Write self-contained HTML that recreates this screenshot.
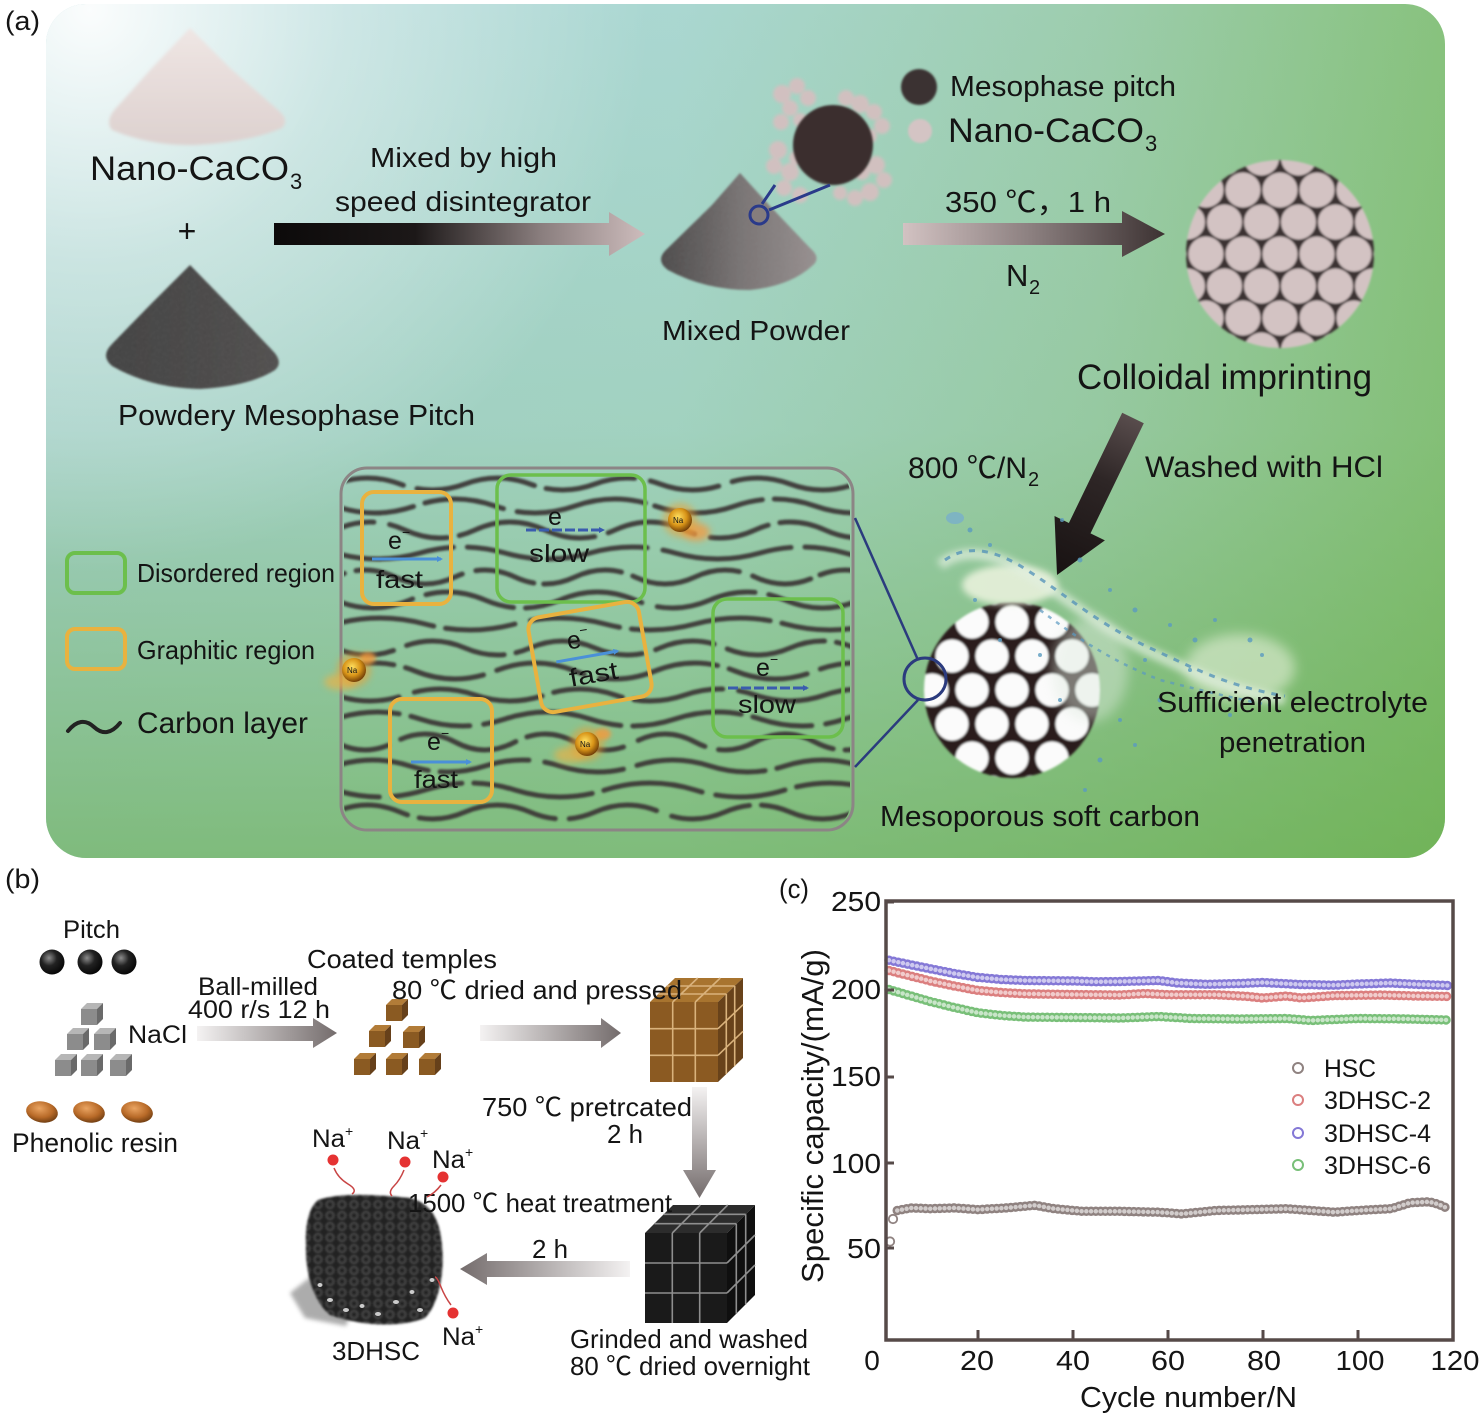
<!DOCTYPE html>
<html><head><meta charset="utf-8"><style>
html,body{margin:0;padding:0;background:#fff;}
svg{display:block;}
text{font-family:"Liberation Sans","Noto Sans CJK SC",sans-serif;fill:#141414;}
</style></head><body>
<svg width="1479" height="1415" viewBox="0 0 1479 1415" xmlns="http://www.w3.org/2000/svg">
<defs>
 <linearGradient id="bgX" gradientUnits="userSpaceOnUse" x1="46" y1="0" x2="1445" y2="0">
  <stop offset="0" stop-color="#aad4d7"/><stop offset="0.45" stop-color="#aad7d1"/>
  <stop offset="0.75" stop-color="#9dcdae"/><stop offset="1" stop-color="#88c27e"/>
 </linearGradient>
 <linearGradient id="bgY" gradientUnits="userSpaceOnUse" x1="0" y1="4" x2="0" y2="858">
  <stop offset="0" stop-color="#62aa40" stop-opacity="0"/><stop offset="0.5" stop-color="#62aa40" stop-opacity="0.12"/>
  <stop offset="1" stop-color="#62aa40" stop-opacity="0.6"/>
 </linearGradient>
 <radialGradient id="bgW" gradientUnits="userSpaceOnUse" cx="90" cy="10" r="560">
  <stop offset="0" stop-color="#fff" stop-opacity="0.95"/><stop offset="0.45" stop-color="#fff" stop-opacity="0.42"/>
  <stop offset="1" stop-color="#fff" stop-opacity="0"/>
 </radialGradient>
 <filter id="b1" x="-50%" y="-50%" width="200%" height="200%"><feGaussianBlur stdDeviation="1"/></filter>
 <filter id="b15" x="-50%" y="-50%" width="200%" height="200%"><feGaussianBlur stdDeviation="1.5"/></filter>
 <filter id="b2" x="-50%" y="-50%" width="200%" height="200%"><feGaussianBlur stdDeviation="2"/></filter>
 <filter id="b3" x="-50%" y="-50%" width="200%" height="200%"><feGaussianBlur stdDeviation="3.5"/></filter>
 <filter id="b6" x="-50%" y="-50%" width="200%" height="200%"><feGaussianBlur stdDeviation="6"/></filter>
 <filter id="grain" x="-10%" y="-10%" width="120%" height="120%">
  <feTurbulence type="fractalNoise" baseFrequency="0.9" numOctaves="2" result="n"/>
  <feColorMatrix in="n" type="matrix" values="0 0 0 0 1  0 0 0 0 1  0 0 0 0 1  0 0 0 0.12 0" result="w"/>
  <feComposite in="w" in2="SourceGraphic" operator="in" result="wg"/>
  <feMerge result="m"><feMergeNode in="SourceGraphic"/><feMergeNode in="wg"/></feMerge>
  <feGaussianBlur in="m" stdDeviation="1"/>
 </filter>
 <linearGradient id="wp" x1="0" y1="0" x2="0" y2="1"><stop offset="0" stop-color="#efe6e4"/><stop offset="1" stop-color="#ddd1cf"/></linearGradient>
 <linearGradient id="bp" x1="0" y1="0" x2="1" y2="0"><stop offset="0" stop-color="#141212"/><stop offset="1" stop-color="#33302f"/></linearGradient>
 <linearGradient id="mp" x1="0" y1="0" x2="1" y2="0"><stop offset="0" stop-color="#2e2a2a"/><stop offset="0.5" stop-color="#6a6464"/><stop offset="1" stop-color="#8e8686"/></linearGradient>
 <linearGradient id="ga1" gradientUnits="userSpaceOnUse" x1="274" y1="0" x2="645" y2="0">
  <stop offset="0" stop-color="#0c0a0a"/><stop offset="0.38" stop-color="#1c1818"/><stop offset="0.72" stop-color="#8a7e7e"/><stop offset="1" stop-color="#cdbcbc"/>
 </linearGradient>
 <linearGradient id="ga2" gradientUnits="userSpaceOnUse" x1="903" y1="0" x2="1165" y2="0">
  <stop offset="0" stop-color="#d2c2c2"/><stop offset="0.5" stop-color="#8a7e7e"/><stop offset="1" stop-color="#3c3232"/>
 </linearGradient>
 <linearGradient id="ga3" gradientUnits="userSpaceOnUse" x1="1133" y1="415" x2="1057" y2="575">
  <stop offset="0" stop-color="#5a4e4e"/><stop offset="0.4" stop-color="#2e2626"/><stop offset="1" stop-color="#181212"/>
 </linearGradient>
 <linearGradient id="gbR" x1="0" y1="0" x2="1" y2="0"><stop offset="0" stop-color="#f4f2f2"/><stop offset="1" stop-color="#746c6c"/></linearGradient>
 <linearGradient id="gbL" x1="1" y1="0" x2="0" y2="0"><stop offset="0" stop-color="#f4f2f2"/><stop offset="1" stop-color="#746c6c"/></linearGradient>
 <linearGradient id="gbD" x1="0" y1="0" x2="0" y2="1"><stop offset="0" stop-color="#f4f2f2"/><stop offset="1" stop-color="#746c6c"/></linearGradient>
 <radialGradient id="nag" cx="0.42" cy="0.38" r="0.65"><stop offset="0" stop-color="#ffe060"/><stop offset="0.55" stop-color="#d89418"/><stop offset="1" stop-color="#6a3806"/></radialGradient>
 <radialGradient id="bb" cx="0.38" cy="0.34" r="0.7"><stop offset="0" stop-color="#8c8c8c"/><stop offset="0.45" stop-color="#222"/><stop offset="1" stop-color="#050505"/></radialGradient>
 <radialGradient id="rz" cx="0.4" cy="0.35" r="0.7"><stop offset="0" stop-color="#eaa462"/><stop offset="0.6" stop-color="#b86a28"/><stop offset="1" stop-color="#6a3a10"/></radialGradient>
 <pattern id="pk" x="1280" y="254" width="37" height="64" patternUnits="userSpaceOnUse">
  <rect width="37" height="64" fill="#3a3030"/>
  <g fill="#d3c3c3"><circle cx="0" cy="0" r="17.5"/><circle cx="37" cy="0" r="17.5"/><circle cx="18.5" cy="32" r="17.5"/><circle cx="0" cy="64" r="17.5"/><circle cx="37" cy="64" r="17.5"/></g>
 </pattern>
 <pattern id="pw" x="1012" y="690" width="40" height="68" patternUnits="userSpaceOnUse">
  <rect width="40" height="68" fill="#2a1f1f"/>
  <g fill="#fbfbfb"><circle cx="0" cy="0" r="16.5"/><circle cx="40" cy="0" r="16.5"/><circle cx="20" cy="34" r="16.5"/><circle cx="0" cy="68" r="16.5"/><circle cx="40" cy="68" r="16.5"/></g>
 </pattern>
 <pattern id="por" width="12" height="11" patternUnits="userSpaceOnUse">
  <rect width="12" height="11" fill="#242424"/><circle cx="6" cy="5.5" r="3.6" fill="none" stroke="#484848" stroke-width="1.8"/>
 </pattern>
 <clipPath id="boxclip"><rect x="344" y="471" width="506" height="356" rx="22"/></clipPath>
 <marker id="ahL" markerWidth="6" markerHeight="6" refX="4" refY="3" orient="auto" markerUnits="userSpaceOnUse"><path d="M0,0 L6,3 L0,6z" fill="#4a90d8"/></marker>
 <marker id="ahD" markerWidth="6" markerHeight="6" refX="4" refY="3" orient="auto" markerUnits="userSpaceOnUse"><path d="M0,0 L6,3 L0,6z" fill="#3a5cae"/></marker>
 <g id="gcube"><path d="M-11,-5h16v16h-16z" fill="#8c8c8c"/><path d="M-11,-5l6,-6h16l-6,6z" fill="#b6b6b6"/><path d="M5,-5l6,-6v16l-6,6z" fill="#6a6a6a"/></g>
 <g id="bcube"><path d="M-11,-5h16v16h-16z" fill="#8a5a22"/><path d="M-11,-5l6,-6h16l-6,6z" fill="#b27c38"/><path d="M5,-5l6,-6v16l-6,6z" fill="#66401a"/></g>
</defs>

<!-- ================= PANEL (a) ================= -->
<rect x="46" y="4" width="1399" height="854" rx="40" fill="url(#bgX)"/>
<rect x="46" y="4" width="1399" height="854" rx="40" fill="url(#bgY)"/>
<rect x="46" y="4" width="1399" height="854" rx="40" fill="url(#bgW)"/>

<text x="5" y="30" font-size="27" textLength="35" lengthAdjust="spacingAndGlyphs">(a)</text>

<!-- powders -->
<path d="M190,28 L152,68 L118,106 Q104,120 112,130 Q150,146 195,145 Q250,142 282,128 Q290,120 278,110 L230,68 Z" fill="url(#wp)" filter="url(#b15)"/>
<text x="90" y="180" font-size="34" textLength="199" lengthAdjust="spacingAndGlyphs">Nano-CaCO</text>
<text x="290" y="189" font-size="22">3</text>
<text x="187" y="242" font-size="32" text-anchor="middle">+</text>
<path d="M190,265 L150,305 L112,344 Q100,356 112,366 Q150,388 200,389 Q250,386 275,370 Q284,362 272,350 L232,308 Z" fill="url(#bp)" filter="url(#grain)"/>
<text x="118" y="425" font-size="29" textLength="357" lengthAdjust="spacingAndGlyphs">Powdery Mesophase Pitch</text>

<!-- arrow 1 -->
<path d="M274,223 H609 V212 L645,234 L609,256 V245 H274 Z" fill="url(#ga1)"/>
<text x="370" y="167" font-size="28" textLength="187" lengthAdjust="spacingAndGlyphs">Mixed by high</text>
<text x="335" y="211" font-size="28" textLength="256" lengthAdjust="spacingAndGlyphs">speed disintegrator</text>

<!-- mixed powder -->
<path d="M740,173 L712,205 L668,248 Q654,260 668,270 Q705,290 750,290 Q790,286 812,266 Q822,258 810,248 L770,206 Z" fill="url(#mp)" filter="url(#grain)"/>
<g fill="#d4c0c0" opacity="0.95" filter="url(#b15)">
 <circle cx="782" cy="94" r="9"/><circle cx="797" cy="86" r="8"/><circle cx="808" cy="98" r="8"/><circle cx="790" cy="108" r="8"/><circle cx="781" cy="122" r="8"/><circle cx="800" cy="120" r="7"/>
 <circle cx="846" cy="98" r="8"/><circle cx="860" cy="104" r="9"/><circle cx="874" cy="112" r="8"/><circle cx="882" cy="126" r="8"/><circle cx="870" cy="136" r="7"/>
 <circle cx="778" cy="150" r="9"/><circle cx="774" cy="166" r="8"/><circle cx="790" cy="172" r="9"/><circle cx="784" cy="188" r="8"/><circle cx="800" cy="195" r="8"/><circle cx="796" cy="158" r="7"/>
 <circle cx="862" cy="172" r="8"/><circle cx="876" cy="165" r="9"/><circle cx="884" cy="180" r="8"/><circle cx="870" cy="192" r="9"/><circle cx="855" cy="198" r="8"/><circle cx="840" cy="193" r="7"/>
</g>
<circle cx="833" cy="145" r="40" fill="#3a2e2e" filter="url(#b1)"/>
<path d="M762,204 L775,185 M769,210 L830,185" stroke="#2a3a8a" stroke-width="3" fill="none"/>
<circle cx="759" cy="215" r="9" fill="#857d7d" stroke="#2a3a8a" stroke-width="3"/>
<text x="662" y="340" font-size="28" textLength="188" lengthAdjust="spacingAndGlyphs">Mixed Powder</text>

<!-- legend top-right -->
<circle cx="919" cy="87" r="18" fill="#3a3030" filter="url(#b1)"/>
<text x="950" y="96" font-size="29" textLength="226" lengthAdjust="spacingAndGlyphs">Mesophase pitch</text>
<circle cx="920" cy="131" r="12" fill="#d4c4c4" filter="url(#b1)"/>
<text x="948" y="142" font-size="34" textLength="196" lengthAdjust="spacingAndGlyphs">Nano-CaCO</text>
<text x="1145" y="151" font-size="22">3</text>

<!-- arrow 2 -->
<path d="M903,223 H1122 V211 L1165,234 L1122,257 V245 H903 Z" fill="url(#ga2)"/>
<text x="945" y="212" font-size="29" textLength="166" lengthAdjust="spacingAndGlyphs">350 ℃，1 h</text>
<text x="1006" y="286" font-size="31">N</text>
<text x="1029" y="294" font-size="20">2</text>

<!-- colloidal sphere -->
<circle cx="1280" cy="254" r="94" fill="url(#pk)" filter="url(#b1)"/>
<text x="1077" y="389" font-size="35" textLength="295" lengthAdjust="spacingAndGlyphs">Colloidal imprinting</text>

<!-- diagonal arrow -->
<path d="M1122.2,412.8 L1143.8,423.2 L1090.5,533.4 L1104.9,540.4 L1057,575 L1054.5,516 L1068.9,523 Z" fill="url(#ga3)"/>
<text x="908" y="478" font-size="30" textLength="119" lengthAdjust="spacingAndGlyphs">800 ℃/N</text>
<text x="1028" y="486" font-size="20">2</text>
<text x="1145" y="477" font-size="30" textLength="238" lengthAdjust="spacingAndGlyphs">Washed with HCl</text>

<!-- zoom box with carbon layers -->
<g clip-path="url(#boxclip)" fill="none" stroke="#3b3636" stroke-width="5" stroke-linecap="round" opacity="0.92" filter="url(#b1)">
 <path d="M335,484 q32.5,-12 65,0 t65,0 t65,0 t65,0 t65,0 t65,0 t65,0 t65,0" stroke-dasharray="70 14 120 12 90 16"/>
 <path d="M335,506 q40,14 80,0 t80,0 t80,0 t80,0 t80,0 t80,0 t80,0" stroke-dasharray="110 12 80 14 130 10" stroke-dashoffset="30"/>
 <path d="M335,530 q35,-16 70,0 t70,0 t70,0 t70,0 t70,0 t70,0 t70,0 t70,0" stroke-dasharray="90 16 60 12 140 14" stroke-dashoffset="50"/>
 <path d="M335,553 q42.5,12 85,0 t85,0 t85,0 t85,0 t85,0 t85,0 t85,0" stroke-dasharray="130 14 70 12 100 16" stroke-dashoffset="10"/>
 <path d="M335,577 q30,-14 60,0 t60,0 t60,0 t60,0 t60,0 t60,0 t60,0 t60,0 t60,0" stroke-dasharray="80 12 110 14 60 10" stroke-dashoffset="70"/>
 <path d="M335,600 q37.5,16 75,0 t75,0 t75,0 t75,0 t75,0 t75,0 t75,0" stroke-dasharray="100 14 90 12 120 16" stroke-dashoffset="20"/>
 <path d="M335,624 q45,-12 90,0 t90,0 t90,0 t90,0 t90,0 t90,0" stroke-dasharray="140 12 70 16 90 12" stroke-dashoffset="40"/>
 <path d="M335,648 q32.5,14 65,0 t65,0 t65,0 t65,0 t65,0 t65,0 t65,0 t65,0" stroke-dasharray="60 14 100 12 130 14"/>
 <path d="M335,671 q40,-16 80,0 t80,0 t80,0 t80,0 t80,0 t80,0 t80,0" stroke-dasharray="120 12 80 14 90 16" stroke-dashoffset="60"/>
 <path d="M335,695 q35,12 70,0 t70,0 t70,0 t70,0 t70,0 t70,0 t70,0 t70,0" stroke-dasharray="90 16 130 12 70 12" stroke-dashoffset="25"/>
 <path d="M335,719 q42.5,-14 85,0 t85,0 t85,0 t85,0 t85,0 t85,0 t85,0" stroke-dasharray="110 12 60 14 140 12" stroke-dashoffset="45"/>
 <path d="M335,742 q30,16 60,0 t60,0 t60,0 t60,0 t60,0 t60,0 t60,0 t60,0 t60,0" stroke-dasharray="70 14 120 12 100 16" stroke-dashoffset="15"/>
 <path d="M335,766 q37.5,-12 75,0 t75,0 t75,0 t75,0 t75,0 t75,0 t75,0" stroke-dasharray="130 12 90 16 80 14" stroke-dashoffset="35"/>
 <path d="M335,790 q45,14 90,0 t90,0 t90,0 t90,0 t90,0 t90,0" stroke-dasharray="100 14 70 12 120 12" stroke-dashoffset="55"/>
 <path d="M335,812 q32.5,-14 65,0 t65,0 t65,0 t65,0 t65,0 t65,0 t65,0 t65,0" stroke-dasharray="80 12 140 14 90 16" stroke-dashoffset="5"/>
</g>
<rect x="341" y="468" width="512" height="362" rx="26" fill="none" stroke="#8c8585" stroke-width="3"/>

<!-- region boxes -->
<g fill="none" stroke-width="3.5">
 <rect x="497" y="475" width="148" height="127" rx="14" stroke="#6cbf4c"/>
 <rect x="713" y="599" width="130" height="138" rx="14" stroke="#6cbf4c"/>
 <rect x="362" y="492" width="89" height="112" rx="12" stroke="#e9b23f" stroke-width="4"/>
 <rect x="534" y="609" width="112" height="96" rx="12" stroke="#e9b23f" stroke-width="4" transform="rotate(-10 590 657)"/>
 <rect x="390" y="699" width="102" height="103" rx="12" stroke="#e9b23f" stroke-width="4"/>
</g>

<!-- electron labels -->
<g font-size="25">
 <text x="388" y="549" fill="#4a90d8">e</text><text x="402" y="537" font-size="14" fill="#4a90d8">−</text>
 <line x1="372" y1="559" x2="441" y2="559" stroke="#4a90d8" stroke-width="3" marker-end="url(#ahL)"/>
 <text x="376" y="588" fill="#4a90d8" textLength="47" lengthAdjust="spacingAndGlyphs">fast</text>

 <text x="548" y="525" fill="#3a5cae">e</text>
 <line x1="526" y1="530" x2="603" y2="530" stroke="#3a5cae" stroke-width="3" stroke-dasharray="10 3" marker-end="url(#ahD)"/>
 <text x="529" y="562" fill="#3a5cae" textLength="60" lengthAdjust="spacingAndGlyphs">slow</text>

 <g transform="rotate(-10 590 657)">
  <text x="570" y="646" fill="#4a90d8">e</text><text x="584" y="634" font-size="14" fill="#4a90d8">−</text>
  <line x1="556" y1="656" x2="618" y2="656" stroke="#4a90d8" stroke-width="3" marker-end="url(#ahL)"/>
  <text x="566" y="683" fill="#4a90d8" textLength="49" lengthAdjust="spacingAndGlyphs">fast</text>
 </g>

 <text x="756" y="676" fill="#3a5cae">e</text><text x="770" y="664" font-size="14" fill="#3a5cae">−</text>
 <line x1="728" y1="688" x2="807" y2="688" stroke="#3a5cae" stroke-width="3" stroke-dasharray="10 3" marker-end="url(#ahD)"/>
 <text x="738" y="713" fill="#3a5cae" textLength="58" lengthAdjust="spacingAndGlyphs">slow</text>

 <text x="427" y="750" fill="#4a90d8">e</text><text x="441" y="738" font-size="14" fill="#4a90d8">−</text>
 <line x1="411" y1="762" x2="470" y2="762" stroke="#4a90d8" stroke-width="3" marker-end="url(#ahL)"/>
 <text x="414" y="788" fill="#4a90d8" textLength="44" lengthAdjust="spacingAndGlyphs">fast</text>
</g>

<!-- Na balls -->
<g>
 <ellipse cx="696" cy="532" rx="14" ry="9" fill="#f59a40" opacity="0.75" filter="url(#b3)"/>
 <circle cx="680" cy="520" r="17" fill="#f0a030" opacity="0.55" filter="url(#b3)"/>
 <circle cx="680" cy="520" r="12" fill="url(#nag)"/>
 <text x="673" y="523" font-size="8" fill="#3a2000">Na</text>
 <ellipse cx="340" cy="682" rx="16" ry="8" fill="#f5b040" opacity="0.6" filter="url(#b3)"/>
 <ellipse cx="368" cy="658" rx="8" ry="6" fill="#f59a40" opacity="0.8" filter="url(#b2)"/>
 <circle cx="354" cy="670" r="17" fill="#f0a030" opacity="0.55" filter="url(#b3)"/>
 <circle cx="354" cy="670" r="12" fill="url(#nag)"/>
 <text x="347" y="673" font-size="8" fill="#3a2000">Na</text>
 <ellipse cx="570" cy="755" rx="16" ry="8" fill="#f5b040" opacity="0.6" filter="url(#b3)"/>
 <ellipse cx="603" cy="734" rx="8" ry="6" fill="#f59a40" opacity="0.8" filter="url(#b2)"/>
 <circle cx="587" cy="744" r="17" fill="#f0a030" opacity="0.55" filter="url(#b3)"/>
 <circle cx="587" cy="744" r="12" fill="url(#nag)"/>
 <text x="580" y="747" font-size="8" fill="#3a2000">Na</text>
</g>

<!-- legend -->
<rect x="67" y="553" width="58" height="40" rx="8" fill="none" stroke="#6cbf4c" stroke-width="4"/>
<text x="137" y="582" font-size="26" textLength="198" lengthAdjust="spacingAndGlyphs">Disordered region</text>
<rect x="67" y="629" width="58" height="40" rx="8" fill="none" stroke="#e9b23f" stroke-width="4"/>
<text x="137" y="659" font-size="26" textLength="178" lengthAdjust="spacingAndGlyphs">Graphitic region</text>
<path d="M68,731 q13,-16 26,-4 t26,-4" fill="none" stroke="#222" stroke-width="4" stroke-linecap="round"/>
<text x="137" y="733" font-size="30" textLength="171" lengthAdjust="spacingAndGlyphs">Carbon layer</text>

<!-- connector lines -->
<path d="M855,518 L918,660 M918,700 L855,767" stroke="#2b3b7e" stroke-width="2.5" fill="none"/>

<!-- mesoporous sphere -->
<circle cx="1012" cy="690" r="88" fill="url(#pw)" filter="url(#b1)"/>
<circle cx="925" cy="679" r="21" fill="none" stroke="#2b3b7e" stroke-width="3"/>

<!-- splash -->
<g>
 <ellipse cx="1010" cy="585" rx="48" ry="20" fill="#eef4e0" opacity="0.85" filter="url(#b3)"/>
 <ellipse cx="1240" cy="668" rx="55" ry="34" fill="#e4efd8" opacity="0.6" filter="url(#b6)"/>
 <ellipse cx="1090" cy="670" rx="38" ry="52" fill="#dfeadf" opacity="0.45" filter="url(#b6)"/>
 <path d="M940,565 C965,545 1000,555 1030,575 C1070,600 1100,628 1150,652 C1190,670 1225,690 1285,700" fill="none" stroke="#e2efe0" stroke-width="11" opacity="0.7" filter="url(#b3)"/>
 <path d="M945,560 C970,542 1000,552 1030,572 C1070,598 1100,625 1150,648 C1190,666 1225,686 1285,696" fill="none" stroke="#4f8fb8" stroke-width="3" stroke-dasharray="6 7" opacity="0.75"/>
 <path d="M1040,610 C1080,640 1110,660 1160,680 C1200,690 1240,700 1270,705" fill="none" stroke="#5a98c0" stroke-width="2.5" stroke-dasharray="4 6" opacity="0.7"/>
 <ellipse cx="955" cy="518" rx="9" ry="6" fill="#7ab0c8" opacity="0.85"/>
 <g fill="#5b9bc0" opacity="0.8">
  <circle cx="970" cy="530" r="2.5"/><circle cx="990" cy="545" r="2"/><circle cx="1062" cy="520" r="2"/><circle cx="1080" cy="560" r="2.5"/>
  <circle cx="1110" cy="590" r="2"/><circle cx="1135" cy="610" r="2.5"/><circle cx="1170" cy="625" r="2"/><circle cx="1195" cy="640" r="2.5"/>
  <circle cx="1215" cy="620" r="2"/><circle cx="1250" cy="640" r="2.5"/><circle cx="1262" cy="655" r="2"/><circle cx="1230" cy="715" r="2"/>
  <circle cx="1120" cy="720" r="2"/><circle cx="1100" cy="760" r="2.5"/><circle cx="1085" cy="790" r="2"/><circle cx="1135" cy="745" r="2"/>
  <circle cx="1000" cy="640" r="2"/><circle cx="1040" cy="655" r="2"/><circle cx="975" cy="600" r="2"/><circle cx="1160" cy="700" r="2.5"/>
  <circle cx="1190" cy="670" r="2"/><circle cx="1145" cy="660" r="2"/><circle cx="1060" cy="700" r="2"/>
 </g>
</g>

<text x="1157" y="712" font-size="29" textLength="271" lengthAdjust="spacingAndGlyphs">Sufficient electrolyte</text>
<text x="1219" y="752" font-size="29" textLength="147" lengthAdjust="spacingAndGlyphs">penetration</text>
<text x="880" y="826" font-size="29" textLength="320" lengthAdjust="spacingAndGlyphs">Mesoporous soft carbon</text>

<!-- ================= PANEL (b) ================= -->
<text x="5" y="888" font-size="27" textLength="35" lengthAdjust="spacingAndGlyphs">(b)</text>
<text x="63" y="938" font-size="25" textLength="57" lengthAdjust="spacingAndGlyphs">Pitch</text>
<circle cx="52" cy="962" r="12.5" fill="url(#bb)"/>
<circle cx="90" cy="962" r="12.5" fill="url(#bb)"/>
<circle cx="124" cy="962" r="12.5" fill="url(#bb)"/>
<use href="#gcube" x="92" y="1014"/>
<use href="#gcube" x="78" y="1039"/>
<use href="#gcube" x="105" y="1039"/>
<use href="#gcube" x="66" y="1065"/>
<use href="#gcube" x="92" y="1065"/>
<use href="#gcube" x="121" y="1065"/>
<text x="128" y="1043" font-size="25" textLength="59" lengthAdjust="spacingAndGlyphs">NaCl</text>
<ellipse cx="42" cy="1112" rx="16" ry="10.5" fill="url(#rz)" transform="rotate(10 42 1112)"/>
<ellipse cx="89" cy="1112" rx="16" ry="10.5" fill="url(#rz)" transform="rotate(10 89 1112)"/>
<ellipse cx="137" cy="1112" rx="16" ry="10.5" fill="url(#rz)" transform="rotate(10 137 1112)"/>
<text x="12" y="1152" font-size="27" textLength="166" lengthAdjust="spacingAndGlyphs">Phenolic resin</text>

<text x="198" y="995" font-size="25" textLength="120" lengthAdjust="spacingAndGlyphs">Ball-milled</text>
<text x="188" y="1018" font-size="25" textLength="142" lengthAdjust="spacingAndGlyphs">400 r/s 12 h</text>
<path d="M197,1026 H313 V1018 L337,1033 L313,1048 V1041 H197 Z" fill="url(#gbR)"/>

<text x="307" y="968" font-size="26" textLength="190" lengthAdjust="spacingAndGlyphs">Coated temples</text>
<use href="#bcube" x="397" y="1010"/>
<use href="#bcube" x="380" y="1036"/>
<use href="#bcube" x="414" y="1037"/>
<use href="#bcube" x="365" y="1064"/>
<use href="#bcube" x="397" y="1064"/>
<use href="#bcube" x="430" y="1064"/>
<path d="M480,1025 H601 V1018 L621,1033 L601,1048 V1041 H480 Z" fill="url(#gbR)"/>

<!-- big brown cube -->
<g>
 <path d="M650,1002 h68 v80 h-68 z" fill="#8b5a22"/>
 <path d="M650,1002 l25,-24 h68 l-25,24 z" fill="#a8742f"/>
 <path d="M718,1002 l25,-24 v80 l-25,24 z" fill="#68421a"/>
 <g stroke="#d9b27c" stroke-width="1.6" fill="none">
  <path d="M672.7,1002 V1082 M695.3,1002 V1082 M650,1028.7 H718 M650,1055.3 H718"/>
  <path d="M672.7,1002 L697.7,978 M695.3,1002 L720.3,978 M658.3,994 H726.3 M666.7,986 H734.7"/>
  <path d="M726.3,994 V1074 M734.7,986 V1066 M718,1028.7 L743,1004.7 M718,1055.3 L743,1031.3"/>
 </g>
</g>
<text x="392" y="999" font-size="26" textLength="290" lengthAdjust="spacingAndGlyphs">80 ℃ dried and pressed</text>
<text x="482" y="1116" font-size="26" textLength="210" lengthAdjust="spacingAndGlyphs">750 ℃ pretrcated</text>
<text x="607" y="1143" font-size="26" textLength="36" lengthAdjust="spacingAndGlyphs">2 h</text>
<path d="M692,1087 H707 V1170 H716 L699.5,1198 L683,1170 H692 Z" fill="url(#gbD)"/>

<!-- black cube -->
<g>
 <path d="M645,1233 h82 v90 h-82 z" fill="#1a1a1a"/>
 <path d="M645,1233 l28,-28 h82 l-28,28 z" fill="#2c2c2c"/>
 <path d="M727,1233 l28,-28 v90 l-28,28 z" fill="#0f0f0f"/>
 <g stroke="#8e8e8e" stroke-width="1.6" fill="none">
  <path d="M672.3,1233 V1323 M699.7,1233 V1323 M645,1263 H727 M645,1293 H727"/>
  <path d="M672.3,1233 L700.3,1205 M699.7,1233 L727.7,1205 M654.3,1223.7 H736.3 M663.7,1214.3 H745.7"/>
  <path d="M736.3,1223.7 V1313.7 M745.7,1214.3 V1304.3 M727,1263 L755,1235 M727,1293 L755,1265"/>
 </g>
</g>
<text x="532" y="1258" font-size="26" textLength="36" lengthAdjust="spacingAndGlyphs">2 h</text>
<path d="M630,1261 H487 V1253 L460,1269 L487,1285 V1277 H630 Z" fill="url(#gbL)"/>
<text x="570" y="1348" font-size="26" textLength="238" lengthAdjust="spacingAndGlyphs">Grinded and washed</text>
<text x="570" y="1375" font-size="26" textLength="240" lengthAdjust="spacingAndGlyphs">80 ℃ dried overnight</text>

<!-- 3DHSC blob -->
<path d="M290,1293 L322,1268 L352,1310 L346,1326 L305,1318 Z" fill="#8a8a8a" opacity="0.7" filter="url(#b2)"/>
<path d="M318,1200 C340,1192 380,1195 410,1198 C430,1203 440,1218 442,1245 C445,1275 438,1305 425,1318 C400,1328 360,1326 330,1315 C312,1300 305,1270 306,1245 C305,1228 308,1208 318,1200 Z" fill="url(#por)" filter="url(#b1)"/>
<g fill="#e8e8e8" opacity="0.85">
 <ellipse cx="330" cy="1300" rx="3" ry="2"/><ellipse cx="346" cy="1310" rx="3" ry="2"/><ellipse cx="362" cy="1306" rx="2.5" ry="2"/>
 <ellipse cx="378" cy="1314" rx="3" ry="2"/><ellipse cx="396" cy="1302" rx="3" ry="2"/><ellipse cx="412" cy="1292" rx="2.5" ry="2"/>
 <ellipse cx="420" cy="1310" rx="3" ry="2"/><ellipse cx="320" cy="1285" rx="2.5" ry="2"/><ellipse cx="432" cy="1280" rx="2.5" ry="2"/>
</g>
<text x="408" y="1212" font-size="26" textLength="264" lengthAdjust="spacingAndGlyphs">1500 ℃ heat treatment</text>
<text x="332" y="1360" font-size="26" textLength="88" lengthAdjust="spacingAndGlyphs">3DHSC</text>

<!-- Na+ -->
<g fill="none" stroke="#c84444" stroke-width="1.5">
 <path d="M334,1168 q4,10 14,16 t4,10"/><path d="M404,1170 q-4,10 -10,16 t-2,10"/>
 <path d="M441,1185 q-6,8 -14,12"/><path d="M451,1305 q-6,-8 -10,-18 t-6,-10"/>
</g>
<g fill="#e53232">
 <circle cx="333" cy="1160" r="5.5"/><circle cx="405" cy="1162" r="5.5"/><circle cx="443" cy="1177" r="5.5"/><circle cx="453" cy="1313" r="5.5"/>
</g>
<g font-size="25">
 <text x="312" y="1147" textLength="33" lengthAdjust="spacingAndGlyphs">Na</text><text x="345" y="1136" font-size="14">+</text>
 <text x="387" y="1149" textLength="33" lengthAdjust="spacingAndGlyphs">Na</text><text x="420" y="1138" font-size="14">+</text>
 <text x="432" y="1168" textLength="33" lengthAdjust="spacingAndGlyphs">Na</text><text x="465" y="1157" font-size="14">+</text>
 <text x="442" y="1345" textLength="33" lengthAdjust="spacingAndGlyphs">Na</text><text x="475" y="1334" font-size="14">+</text>
</g>

<!-- ================= PANEL (c) ================= -->
<text x="779" y="898" font-size="27" textLength="30" lengthAdjust="spacingAndGlyphs">(c)</text>
<g font-size="28" text-anchor="end">
 <text x="881" y="911" textLength="50" lengthAdjust="spacingAndGlyphs">250</text>
 <text x="881" y="999" textLength="50" lengthAdjust="spacingAndGlyphs">200</text>
 <text x="881" y="1086" textLength="50" lengthAdjust="spacingAndGlyphs">150</text>
 <text x="881" y="1173" textLength="50" lengthAdjust="spacingAndGlyphs">100</text>
 <text x="881" y="1258" textLength="34" lengthAdjust="spacingAndGlyphs">50</text>
</g>
<g font-size="28" text-anchor="middle">
 <text x="872" y="1370">0</text>
 <text x="977" y="1370" textLength="34" lengthAdjust="spacingAndGlyphs">20</text>
 <text x="1073" y="1370" textLength="34" lengthAdjust="spacingAndGlyphs">40</text>
 <text x="1168" y="1370" textLength="34" lengthAdjust="spacingAndGlyphs">60</text>
 <text x="1264" y="1370" textLength="34" lengthAdjust="spacingAndGlyphs">80</text>
 <text x="1360" y="1370" textLength="49" lengthAdjust="spacingAndGlyphs">100</text>
 <text x="1455" y="1370" textLength="49" lengthAdjust="spacingAndGlyphs">120</text>
</g>
<text x="1080" y="1407" font-size="29" textLength="217" lengthAdjust="spacingAndGlyphs">Cycle number/N</text>
<text transform="translate(823,1116) rotate(-90)" text-anchor="middle" font-size="31" textLength="334" lengthAdjust="spacingAndGlyphs">Specific capacity/(mA/g)</text>

<!-- data -->
<g fill="none" stroke-linecap="round" stroke-linejoin="round">
 <g>
  <path d="M889,989.5 L906.75,994.7 L930.5,1001.6 L954.25,1007.5 L978,1012.8 L1001.75,1015.5 L1025.5,1017.1 L1073,1017.5 L1120.5,1018 L1158.5,1016.5 L1191.75,1018.5 L1239.25,1019 L1286.75,1018.5 L1310.5,1020.5 L1358,1018.5 L1405.5,1018.9 L1448.25,1020" stroke="#78bf78" stroke-width="9.5" stroke-dasharray="0 4.75"/>
  <path d="M889,989.5 L906.75,994.7 L930.5,1001.6 L954.25,1007.5 L978,1012.8 L1001.75,1015.5 L1025.5,1017.1 L1073,1017.5 L1120.5,1018 L1158.5,1016.5 L1191.75,1018.5 L1239.25,1019 L1286.75,1018.5 L1310.5,1020.5 L1358,1018.5 L1405.5,1018.9 L1448.25,1020" stroke="#fff" stroke-width="4.5" stroke-dasharray="0 4.75" opacity="0.6"/>
 </g>
 <g>
  <path d="M889,970.5 L906.75,975 L930.5,981 L954.25,986 L978,990.4 L1001.75,992.5 L1025.5,993.8 L1073,994.5 L1120.5,995 L1144.25,993.5 L1168,994.7 L1215.5,994.7 L1248.75,996.5 L1263,998 L1286.75,996 L1301,998 L1334.25,995.6 L1381.75,995 L1415,996 L1448.25,996.4" stroke="#db7f7f" stroke-width="9.5" stroke-dasharray="0 4.75"/>
  <path d="M889,970.5 L906.75,975 L930.5,981 L954.25,986 L978,990.4 L1001.75,992.5 L1025.5,993.8 L1073,994.5 L1120.5,995 L1144.25,993.5 L1168,994.7 L1215.5,994.7 L1248.75,996.5 L1263,998 L1286.75,996 L1301,998 L1334.25,995.6 L1381.75,995 L1415,996 L1448.25,996.4" stroke="#fff" stroke-width="4.5" stroke-dasharray="0 4.75" opacity="0.6"/>
 </g>
 <g>
  <path d="M889,960.2 L906.75,964 L930.5,968.8 L954.25,973.5 L978,977.4 L1001.75,979.5 L1025.5,980.5 L1073,980.9 L1096.75,981.8 L1120.5,981.5 L1158.5,980.5 L1177.5,983 L1206,984.3 L1239.25,983.5 L1263,982.5 L1301,984.5 L1334.25,985.2 L1358,984 L1391.25,983 L1419.75,984.5 L1448.25,985.5" stroke="#8478d6" stroke-width="9.5" stroke-dasharray="0 4.75"/>
  <path d="M889,960.2 L906.75,964 L930.5,968.8 L954.25,973.5 L978,977.4 L1001.75,979.5 L1025.5,980.5 L1073,980.9 L1096.75,981.8 L1120.5,981.5 L1158.5,980.5 L1177.5,983 L1206,984.3 L1239.25,983.5 L1263,982.5 L1301,984.5 L1334.25,985.2 L1358,984 L1391.25,983 L1419.75,984.5 L1448.25,985.5" stroke="#fff" stroke-width="4.5" stroke-dasharray="0 4.75" opacity="0.6"/>
 </g>
 <g>
  <path d="M897.25,1210.5 L911.5,1207.9 L930.5,1208.7 L954.25,1207.9 L978,1209.6 L1006.5,1207.9 L1035,1205.3 L1054,1208.7 L1082.5,1211.3 L1120.5,1211.3 L1158.5,1212.2 L1182.25,1213.9 L1215.5,1210.5 L1253.5,1209.6 L1286.75,1208.7 L1310.5,1210.5 L1334.25,1212.2 L1358,1210.5 L1391.25,1208.7 L1410.25,1202.7 L1429.25,1201.8 L1438.75,1204.4 L1448.25,1208.7" stroke="#8f8280" stroke-width="9.5" stroke-dasharray="0 4.75"/>
  <path d="M897.25,1210.5 L911.5,1207.9 L930.5,1208.7 L954.25,1207.9 L978,1209.6 L1006.5,1207.9 L1035,1205.3 L1054,1208.7 L1082.5,1211.3 L1120.5,1211.3 L1158.5,1212.2 L1182.25,1213.9 L1215.5,1210.5 L1253.5,1209.6 L1286.75,1208.7 L1310.5,1210.5 L1334.25,1212.2 L1358,1210.5 L1391.25,1208.7 L1410.25,1202.7 L1429.25,1201.8 L1438.75,1204.4 L1448.25,1208.7" stroke="#fff" stroke-width="4.5" stroke-dasharray="0 4.75" opacity="0.6"/>
 </g>
 <circle cx="890" cy="1241.5" r="4.2" stroke="#8f8280" stroke-width="1.8"/>
 <circle cx="893" cy="1219" r="4.2" stroke="#8f8280" stroke-width="1.8"/>
</g>

<!-- frame -->
<rect x="886" y="901" width="567" height="439" fill="none" stroke="#564a48" stroke-width="3.5"/>
<g stroke="#564a48" stroke-width="3">
 <path d="M886,902 h8 M886,990 h8 M886,1077 h8 M886,1163 h8 M886,1248 h8"/>
 <path d="M978,1340 v-10 M1073,1340 v-10 M1168,1340 v-10 M1263,1340 v-10 M1358,1340 v-10"/>
</g>

<!-- legend -->
<g fill="none" stroke-width="2">
 <circle cx="1298" cy="1068" r="5" stroke="#8f8280"/>
 <circle cx="1298" cy="1100" r="5" stroke="#db7f7f"/>
 <circle cx="1298" cy="1133" r="5" stroke="#8478d6"/>
 <circle cx="1298" cy="1165" r="5" stroke="#78bf78"/>
</g>
<g font-size="25">
 <text x="1324" y="1077" textLength="52" lengthAdjust="spacingAndGlyphs">HSC</text>
 <text x="1324" y="1109" textLength="107" lengthAdjust="spacingAndGlyphs">3DHSC-2</text>
 <text x="1324" y="1142" textLength="107" lengthAdjust="spacingAndGlyphs">3DHSC-4</text>
 <text x="1324" y="1174" textLength="107" lengthAdjust="spacingAndGlyphs">3DHSC-6</text>
</g>
</svg>
</body></html>
